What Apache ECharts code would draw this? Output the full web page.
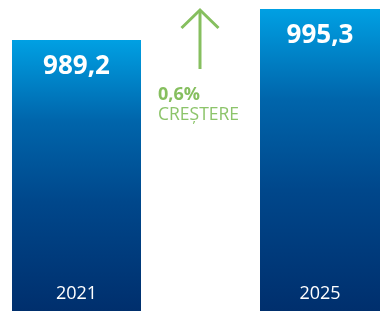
<!DOCTYPE html>
<html>
<head>
<meta charset="utf-8">
<script src="https://cdn.jsdelivr.net/npm/echarts@6/dist/echarts.min.js"></script>
<style>
  html, body { margin: 0; padding: 0; background: #fff; }
  #chart { width: 383px; height: 311px; }
</style>
</head>
<body>
<div id="chart"></div>
<script>
  // date din grafic
  var years = ['2021', '2025'];
  var values = [989.2, 995.3];
  var procent = '0,6%';
  var eticheta = 'CREȘTERE';

  var green = '#86bf5f';
  var yMin = 935.9, yMax = 997.07;

  // fiecare bara are latimea ei, deci cate o grila pentru fiecare
  var grids = [
    {left: 12, width: 129, top: 0, bottom: 0},
    {left: 260, width: 120, top: 0, bottom: 0}
  ];

  function fmt(v) {
    return String(v.toFixed(1)).replace('.', ',');
  }

  function gradient() {
    return new echarts.graphic.LinearGradient(0, 0, 0, 1, [
      {offset: 0, color: '#00a0e3'},
      {offset: 0.3, color: '#0065ab'},
      {offset: 0.6, color: '#00478b'},
      {offset: 1, color: '#002f6d'}
    ]);
  }

  var xAxes = [], yAxes = [], series = [];
  for (let i = 0; i < years.length; i++) {
    xAxes.push({
      type: 'category',
      gridIndex: i,
      data: [years[i]],
      axisLine: {show: false},
      axisTick: {show: false},
      axisLabel: {
        inside: true,
        margin: 8,
        color: '#fff',
        fontFamily: 'Open Sans',
        fontSize: 18
      },
      z: 10
    });
    yAxes.push({type: 'value', gridIndex: i, min: yMin, max: yMax, show: false});
    series.push({
      type: 'bar',
      xAxisIndex: i,
      yAxisIndex: i,
      data: [values[i]],
      barWidth: '100%',
      itemStyle: {color: gradient()},
      label: {
        show: true,
        position: 'insideTop',
        distance: 14,
        color: '#fff',
        fontFamily: 'Open Sans',
        fontWeight: 'bold',
        fontSize: 26,
        formatter: function (p) { return fmt(p.value); }
      }
    });
  }

  var chart = echarts.init(document.getElementById('chart'));
  chart.setOption({
    animation: false,
    grid: grids,
    xAxis: xAxes,
    yAxis: yAxes,
    series: series,
    graphic: [
      {
        type: 'polyline',
        shape: {points: [[200, 11], [200, 69]]},
        style: {stroke: green, lineWidth: 3}
      },
      {
        type: 'polyline',
        shape: {points: [[181.5, 28], [200, 10], [218.5, 28]]},
        style: {stroke: green, lineWidth: 3, fill: null}
      },
      {
        type: 'text',
        left: 158,
        top: 86,
        style: {
          text: procent,
          fill: green,
          font: 'bold 18px "Open Sans"'
        }
      },
      {
        type: 'text',
        left: 158,
        top: 106,
        style: {
          text: eticheta,
          fill: '#8cc46a',
          font: '17.5px "Open Sans"'
        }
      }
    ]
  });
</script>
</body>
</html>
